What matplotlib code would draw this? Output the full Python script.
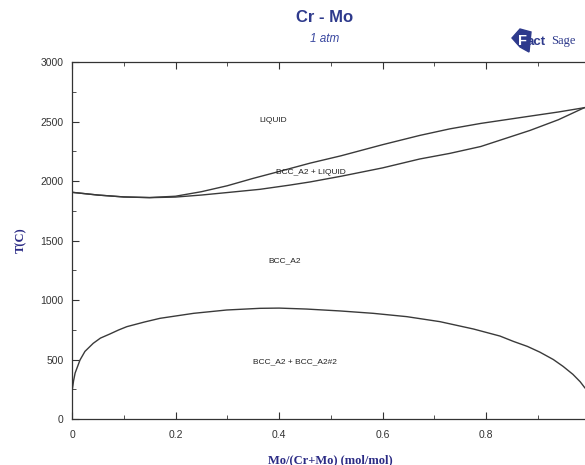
import matplotlib
matplotlib.use("Agg")
import matplotlib.pyplot as plt
from matplotlib.patches import Polygon

# Liquidus (upper boundary of BCC_A2 + LIQUID)
liq_x = [0.0, 0.05, 0.10, 0.15, 0.20, 0.25, 0.30, 0.35, 0.39, 0.46, 0.52, 0.60, 0.672, 0.73, 0.79, 0.885, 0.94, 0.99]
liq_T = [1905, 1882, 1866, 1861, 1872, 1910, 1960, 2022, 2068, 2150, 2212, 2305, 2383, 2438, 2484, 2545, 2580, 2616]

# Solidus (lower boundary of BCC_A2 + LIQUID)
sol_x = [0.0, 0.05, 0.10, 0.15, 0.20, 0.25, 0.30, 0.363, 0.42, 0.46, 0.52, 0.60, 0.672, 0.73, 0.79, 0.885, 0.94, 0.99]
sol_T = [1905, 1882, 1866, 1860, 1865, 1882, 1903, 1930, 1965, 1992, 2040, 2110, 2185, 2232, 2290, 2425, 2515, 2616]

# Miscibility gap BCC_A2 + BCC_A2#2
gap_x = [0.0, 0.003, 0.006, 0.0155, 0.025, 0.041, 0.055, 0.073, 0.09, 0.106, 0.14, 0.17, 0.235, 0.299, 0.363, 0.40,
         0.453, 0.518, 0.582, 0.647, 0.711, 0.776, 0.827, 0.853, 0.88, 0.904, 0.93, 0.949, 0.968, 0.982, 0.991]
gap_T = [230, 320, 386, 496, 568, 636, 680, 714, 748, 776, 815, 846, 888, 916, 930, 932,
         924, 908, 888, 860, 818, 756, 697, 652, 610, 562, 500, 442, 375, 313, 262]

# Region labels
lab_text = ["LIQUID", "BCC_A2 + LIQUID", "BCC_A2", "BCC_A2 + BCC_A2#2"]
lab_x = [0.389, 0.461, 0.41, 0.431]
lab_T = [2507, 2070, 1330, 482]

x_ticks = [0, 0.2, 0.4, 0.6, 0.8]
x_tick_labels = ["0", "0.2", "0.4", "0.6", "0.8"]
y_ticks = [0, 500, 1000, 1500, 2000, 2500, 3000]

W, H = 585, 465
fig = plt.figure(figsize=(W / 100, H / 100), dpi=100)
ax = fig.add_axes([72 / W, 1 - 419 / H, 517.5 / W, 357 / H])

line_col = "#3a3a3a"
ax.plot(liq_x, liq_T, color=line_col, lw=1.0)
ax.plot(sol_x, sol_T, color=line_col, lw=1.0)
ax.plot(gap_x, gap_T, color=line_col, lw=1.0)

for t, x, y in zip(lab_text, lab_x, lab_T):
    ax.text(x, y, t, fontsize=6, ha="center", va="center", color="#222222",
            family="Liberation Sans")

ax.set_xlim(0, 1)
ax.set_ylim(0, 3000)
ax.set_xticks(x_ticks)
ax.set_xticklabels(x_tick_labels)
ax.set_xticks([0.1, 0.3, 0.5, 0.7, 0.9], minor=True)
ax.set_yticks(y_ticks)
ax.set_yticks([250, 750, 1250, 1750, 2250, 2750], minor=True)
ax.tick_params(which="both", direction="in", top=True, right=False,
               labelsize=7.5, labelcolor="#333333", pad=6, color="#333333")
ax.tick_params(axis="x", which="both", pad=8)
ax.tick_params(which="major", length=5)
ax.tick_params(which="minor", length=3)
for lab in ax.get_xticklabels() + ax.get_yticklabels():
    lab.set_family("Liberation Sans")
for s in ax.spines.values():
    s.set_color("#333333")
    s.set_linewidth(0.9)

lab_col = "#2b2b85"
ax.set_xlabel("Mo/(Cr+Mo) (mol/mol)", fontsize=9, fontweight="bold",
              family="Liberation Serif", color=lab_col, labelpad=10)
ax.set_ylabel("T(C)", fontsize=9, fontweight="bold", family="Liberation Serif",
              color=lab_col, labelpad=10)

fig.text(325 / W, 1 - 17 / H, "Cr - Mo", fontsize=12, fontweight="bold",
         family="Liberation Sans", color="#2e3a8c", ha="center", va="center")
fig.text(325 / W, 1 - 39 / H, "1 atm", fontsize=8.5, style="italic",
         family="Liberation Sans", color="#3a48a0", ha="center", va="center")

# FactSage logo
logo = Polygon([[512 / W, 1 - 38 / H], [520 / W, 1 - 29 / H], [531 / W, 1 - 32 / H],
                [529 / W, 1 - 52 / H], [520 / W, 1 - 47 / H]],
               closed=True, transform=fig.transFigure, color="#2e3a8c", zorder=1)
fig.patches.append(logo)
fig.text(518 / W, 1 - 41 / H, "F", fontsize=10.5, fontweight="bold",
         family="Liberation Sans", color="white", ha="left", va="center", zorder=5)
fig.text(527 / W, 1 - 42 / H, "act", fontsize=9.5, fontweight="bold",
         family="Liberation Sans", color="#2e3a8c", ha="left", va="center", zorder=5)
fig.text(551 / W, 1 - 41 / H, "Sage", fontsize=9, family="Liberation Serif",
         color="#2e3a8c", ha="left", va="center", zorder=5)

fig.savefig("out.png", dpi=100)
